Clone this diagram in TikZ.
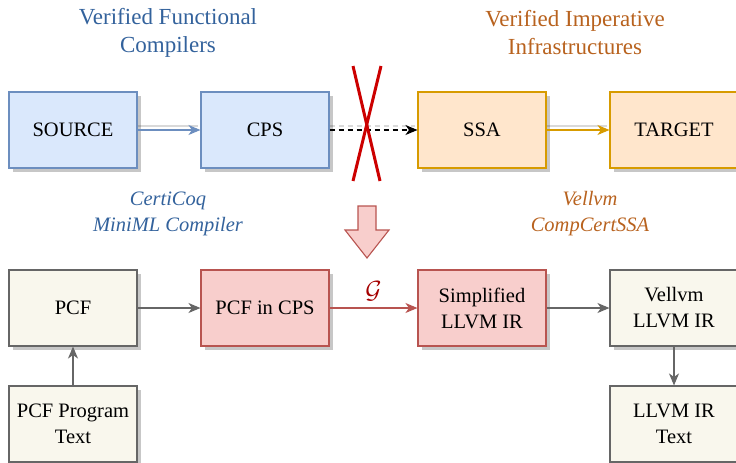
\documentclass[tikz,border=0pt]{standalone}
\usepackage{fontspec}
\setmainfont{Liberation Serif}
\usetikzlibrary{arrows.meta,shadows}
\definecolor{bluefill}{HTML}{DAE8FC}
\definecolor{bluedraw}{HTML}{6C8EBF}
\definecolor{orfill}{HTML}{FFE6CC}
\definecolor{ordraw}{HTML}{D79B00}
\definecolor{redfill}{HTML}{F8CECC}
\definecolor{reddraw}{HTML}{B85450}
\definecolor{grfill}{HTML}{F9F7ED}
\definecolor{grdraw}{HTML}{666666}
\definecolor{bluetxt}{HTML}{33629C}
\definecolor{ortxt}{HTML}{B8621E}
\definecolor{xred}{HTML}{CC0000}
\definecolor{gred}{HTML}{A50000}
\tikzset{
  box/.style={draw, line width=1.1pt, minimum width=128pt, minimum height=76pt, inner sep=2pt,
    align=center, font=\fontsize{20.5}{26}\selectfont,
    drop shadow={shadow xshift=4pt, shadow yshift=-4pt, fill=black, opacity=0.22}},
  bluebox/.style={box, fill=bluefill, draw=bluedraw},
  orbox/.style={box, fill=orfill, draw=ordraw},
  redbox/.style={box, fill=redfill, draw=reddraw},
  grbox/.style={box, fill=grfill, draw=grdraw},
  edge/.style={line width=1.1pt, -{Stealth[length=12pt,width=10pt,inset=3.5pt]}},
  eshadow/.style={line width=1.1pt, draw=black, opacity=0.15},
  title/.style={align=center, font=\fontsize{23}{28}\selectfont},
  sub/.style={align=center, font=\fontsize{20.5}{26}\selectfont\itshape},
}
\begin{document}
\begin{tikzpicture}[x=1pt,y=-1pt]
\useasboundingbox (0,0) rectangle (736,463);
\clip (0,0) rectangle (736,463);
% titles
\node[title, text=bluetxt] (t1) at (168,33) {Verified Functional\\Compilers};
\node[title, text=ortxt] (t2) at (575,33) {Verified Imperative\\Infrastructures};
% top row
\node[bluebox] (src) at (73,130) {SOURCE};
\node[bluebox] (cps) at (265,130) {CPS};
\node[orbox] (ssa) at (482,130) {SSA};
\node[orbox] (tgt) at (674,130) {TARGET};
% edge shadows
\draw[eshadow] ([yshift=4pt]src.east) -- ([yshift=4pt,xshift=-2pt]cps.west);
\draw[eshadow, dash pattern=on 5pt off 4pt] ([yshift=4pt]cps.east) -- ([yshift=4pt,xshift=-2pt]ssa.west);
\draw[eshadow] ([yshift=4pt]ssa.east) -- ([yshift=4pt,xshift=-2pt]tgt.west);
\draw[edge, draw=bluedraw] (src) -- (cps);
\draw[edge, draw=black, dash pattern=on 5pt off 4pt] (cps) -- (ssa);
\draw[edge, draw=ordraw] (ssa) -- (tgt);
% red cross
\coordinate (xa) at (353,66);
\coordinate (xb) at (380,181);
\coordinate (xc) at (381,66);
\coordinate (xd) at (353,181);
\draw[xred, line width=3pt] (xa) -- (xb);
\draw[xred, line width=3pt] (xc) -- (xd);
% subtitles
\node[sub, text=bluetxt] (s1) at (168,214) {CertiCoq\\MiniML Compiler};
\node[sub, text=ortxt] (s2) at (590,214) {Vellvm\\CompCertSSA};
% big arrow
\draw[fill=redfill, draw=reddraw, line width=1.1pt] (358,206) -- (376,206) -- (376,230) -- (389,230) -- (367,258) -- (345,230) -- (358,230) -- cycle;
% bottom row
\node[grbox] (pcf) at (73,308) {PCF};
\node[redbox] (pcfcps) at (265,308) {PCF in CPS};
\node[redbox] (simp) at (482,308) {Simplified\\LLVM IR};
\node[grbox] (vell) at (674,308) {Vellvm\\LLVM IR};
\node[grbox] (ptext) at (73,424) {PCF Program\\Text};
\node[grbox] (ltext) at (674,424) {LLVM IR\\Text};
\draw[edge, draw=grdraw] (pcf) -- (pcfcps);
\draw[edge, draw=reddraw] (pcfcps) -- node[above=3pt, text=gred, font=\fontsize{24}{26}\selectfont] (g) {$\mathcal{G}$} (simp);
\draw[edge, draw=grdraw] (simp) -- (vell);
\draw[edge, draw=grdraw] (ptext) -- (pcf);
\draw[edge, draw=grdraw] (vell) -- (ltext);
\end{tikzpicture}
\end{document}
